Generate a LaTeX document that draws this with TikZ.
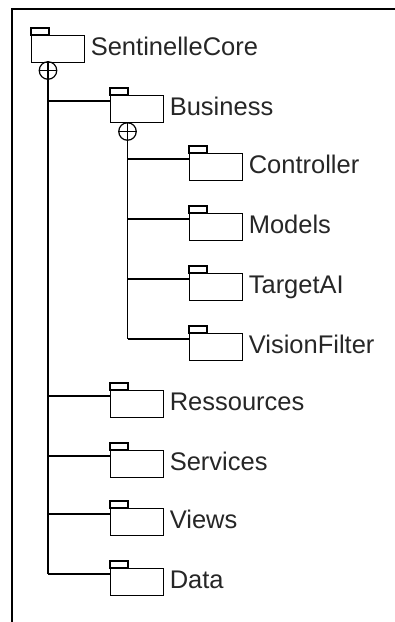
\documentclass[tikz,border=0pt]{standalone}
\usepackage{fontspec}
\setmainfont{Liberation Sans}
\begin{document}
\begin{tikzpicture}[x=1pt,y=-1pt,
  line width=1.2pt,
  folder/.style={draw, rectangle, minimum width=53pt, minimum height=27pt, inner sep=0pt, anchor=north west},
  lbl/.style={anchor=base west, inner sep=0pt, font=\fontsize{25.5}{28}\selectfont, text=black!85},
  contain/.style={draw, circle, minimum size=17.5pt, inner sep=0pt}
]
\useasboundingbox (0,0) rectangle (395,622);
% frame
\draw[line width=1.5pt] (12,622) -- (12,9) -- (395,9);

% folders
\node[folder] (root) at (31,35) {};
\node[folder] (bus) at (110,95) {};
\node[folder] (ctrl) at (189,153) {};
\node[folder] (mod) at (189,213) {};
\node[folder] (tai) at (189,273) {};
\node[folder] (vf) at (189,333) {};
\node[folder] (res) at (110,390) {};
\node[folder] (srv) at (110,450) {};
\node[folder] (vw) at (110,508) {};
\node[folder] (dat) at (110,568) {};

% tabs and labels
\foreach \n/\t in {root/SentinelleCore, bus/Business, ctrl/Controller, mod/Models, tai/TargetAI, vf/VisionFilter, res/Ressources, srv/Services, vw/Views, dat/Data}{
  \draw (\n.north west) rectangle ([xshift=18pt,yshift=7pt]\n.north west);
  \node[lbl] (\n-l) at ([xshift=5pt,yshift=8pt]\n.south east) {\t};
}

% containment symbols
\node[contain] (rc) at (48,70.5) {};
\draw (rc.north) -- (rc.south) (rc.west) -- (rc.east);
\node[contain] (bc) at (127.5,131.5) {};
\draw (bc.north) -- (bc.south) (bc.west) -- (bc.east);

% connection points
\foreach \n in {bus,ctrl,mod,tai,vf,res,srv,vw,dat}
  \coordinate (\n-c) at ([yshift=-6pt]\n.north west);

% trunks
\draw (rc.south) -- (rc.south |- dat-c);
\draw (bc.south) -- (bc.south |- vf-c);

% branches
\foreach \n in {bus,res,srv,vw,dat}
  \draw (rc.south |- \n-c) -- (\n-c);
\foreach \n in {ctrl,mod,tai,vf}
  \draw (bc.south |- \n-c) -- (\n-c);
\end{tikzpicture}
\end{document}
